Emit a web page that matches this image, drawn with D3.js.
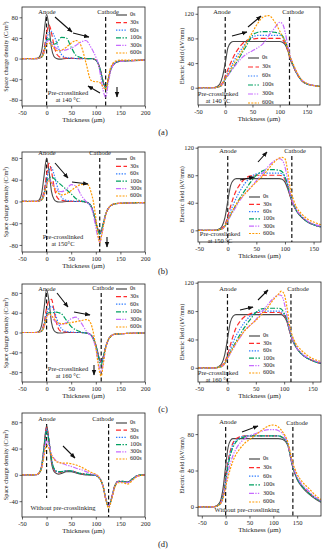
<!DOCTYPE html>
<html>
<head>
<meta charset="utf-8" />
<script src="https://d3js.org/d3.v7.min.js"></script>
<style>
  body { margin: 0; background: #fff; }
  svg text { font-family: "Liberation Serif", "DejaVu Serif", serif; fill: #222; }
</style>
</head>
<body>
<svg id="fig" width="325" height="550"></svg>
<script>
// legend names and styles
var seriesNames = ["0s", "30s", "60s", "100s", "300s", "600s"];
var seriesColors = ["#4a4a4a", "#ff2b2b", "#2f7cff", "#00a060", "#c76bff", "#ff9a00"];
var seriesDashes = ["none", "5,2.5", "1.4,1.4", "5,1.5,1.4,1.5", "5,1.3,1.3,1.3,1.3,1.3", "2,1.3"];

var scTicks = [-80, -40, 0, 40, 80];
var scTicksD = [-40, 0, 40, 80];
var efTicks = [0, 40, 80, 120];
var efTicksD = [0, 40, 80];
var xTicksSC = [-50, 0, 50, 100, 150, 200];
var xTicksEF = [-50, 0, 50, 100, 150];

// ---- (a) 140 C ----
var xScA = [-50,-30,-20,-15,-10,-5,0,5,10,15,20,25,30,40,50,60,70,80,90,100,105,110,115,120,125,130,140,150,170,200];
var scA0   = [0,0,0.5,3,15,50,86,60,20,4,0,-1,-1,0,0,0,0,0,0,-3,-10,-25,-45,-56,-42,-22,-8,-5,-4,-3];
var scA30  = [0,0,0,1,5,20,50,65,50,25,10,4,2,1,1,0,0,0,0,-3,-10,-25,-45,-55,-42,-22,-8,-5,-4,-3];
var scA60  = [0,0,0,1,4,15,38,50,53,45,32,18,8,2,1,0,0,0,0,-3,-10,-25,-45,-55,-42,-22,-8,-5,-4,-3];
var scA100 = [0,0,0,1,3,12,35,38,32,28,30,36,41,40,22,6,2,0,0,-3,-10,-26,-46,-56,-42,-22,-8,-5,-4,-3];
var scA300 = [0,0,0,1,3,12,32,35,30,24,20,17,16,17,20,26,32,35,22,3,-10,-35,-62,-75,-50,-25,-8,-5,-4,-3];
var scA600 = [0,0,0,1,3,12,28,30,26,20,16,15,16,22,30,35,25,-8,-42,-45,-45,-48,-55,-60,-40,-18,-5,-3,-3,-3];

var xEfA = [-50,-30,-20,-15,-10,-5,0,5,10,15,20,30,40,50,60,70,80,90,100,105,110,115,120,125,130,140,150,160,174];
var efA0   = [0,0,0.5,2,6,18,40,65,73,75,75,75,75,75,75,75,75,75,75,74,70,60,45,35,25,12,6,4,2];
var efA30  = [0,0,0,1,3,8,18,30,40,50,58,70,77,79,80,80,80,80,80,78,72,60,45,35,25,12,6,4,2];
var efA60  = [0,0,0,1,2,6,15,25,33,42,50,63,75,82,85,85,85,85,85,83,75,62,47,36,26,12,6,4,2];
var efA100 = [0,0,0,1,2,6,14,20,27,33,40,55,70,85,90,91,91,90,88,84,76,62,47,36,26,12,6,4,2];
var efA300 = [0,0,0,1,2,6,14,20,26,32,38,48,55,60,65,72,85,96,106,104,90,68,50,37,27,13,7,4,2];
var efA600 = [0,0,0,1,2,6,15,22,30,38,45,58,75,90,105,115,117,108,92,83,75,62,48,38,28,13,7,4,2];

// ---- (b) 150 C ----
var xScB = [-50,-30,-20,-15,-10,-5,0,5,10,15,20,25,30,40,50,60,70,80,85,90,95,100,105,108,112,116,120,130,140,160,200];
var scB0   = [0,0,0.5,3,15,48,80,55,18,4,0,-1,-1,0,0,0,0,-1,-3,-8,-20,-38,-53,-58,-52,-38,-24,-8,-4,-3,-2];
var scB30  = [0,0,0,1,5,20,50,70,55,28,10,4,2,1,0,0,0,-1,-3,-8,-20,-38,-54,-59,-52,-38,-24,-8,-4,-3,-2];
var scB60  = [0,0,0,1,4,15,40,58,62,50,33,18,8,2,1,0,0,-1,-3,-8,-20,-38,-55,-60,-52,-38,-24,-8,-4,-3,-2];
var scB100 = [0,0,0,1,3,12,35,44,45,42,38,34,30,22,14,5,1,-1,-3,-8,-20,-38,-55,-60,-52,-38,-24,-8,-4,-3,-2];
var scB300 = [0,0,0,1,3,12,32,40,36,28,22,19,18,22,31,28,12,0,-4,-10,-24,-48,-68,-75,-62,-42,-25,-8,-4,-3,-2];
var scB600 = [0,0,0,1,3,12,30,38,34,26,18,14,12,14,20,27,31,32,30,18,0,-30,-65,-76,-62,-42,-25,-8,-4,-3,-2];

var xEfB = [-52,-30,-20,-15,-10,-5,0,5,10,15,20,30,40,50,60,70,80,90,95,100,105,110,115,120,130,140,150,163];
var efB0   = [0,0,0.5,2,6,18,42,65,73,75,75,75,75,75,75,75,75,75,74,70,60,47,36,28,18,12,8,5];
var efB30  = [0,0,0,1,3,8,20,35,48,58,65,75,79,80,80,80,80,80,79,74,63,48,37,29,19,12,8,5];
var efB60  = [0,0,0,1,2,6,16,28,38,47,55,68,77,82,83,83,83,83,82,76,64,49,38,29,19,12,8,5];
var efB100 = [0,0,0,1,2,6,14,22,30,38,45,58,70,80,86,88,88,87,85,78,65,49,38,29,19,12,8,5];
var efB300 = [0,0,0,1,2,6,14,21,28,35,42,53,62,72,82,92,100,104,102,92,72,50,38,30,20,13,9,6];
var efB600 = [0,0,0,1,2,6,15,23,31,38,44,53,62,70,78,88,98,105,106,104,85,58,44,34,23,16,12,8];

// ---- (c) 160 C ----
var xScC = [-50,-30,-20,-15,-10,-5,0,5,10,15,20,25,30,40,50,60,70,80,85,90,95,100,105,108,111,115,120,130,140,160,200];
var scC0   = [0,0,0.5,3,15,50,87,62,20,4,0,-1,-1,0,0,0,0,-1,-2,-5,-12,-25,-45,-55,-60,-50,-30,-8,-3,-2,-1];
var scC30  = [0,0,0,1,5,20,50,64,67,45,20,6,2,1,0,0,0,-1,-2,-5,-12,-25,-45,-55,-60,-50,-30,-8,-3,-2,-1];
var scC60  = [0,0,0,1,4,15,38,50,53,45,30,16,8,2,1,0,0,-1,-2,-5,-12,-25,-45,-55,-60,-50,-30,-8,-3,-2,-1];
var scC100 = [0,0,0,1,3,12,35,40,40,40,41,40,38,25,12,5,1,-1,-2,-5,-12,-26,-48,-60,-65,-52,-30,-8,-3,-2,-1];
var scC300 = [0,0,0,1,3,12,32,38,32,25,20,17,16,20,28,31,20,4,-2,-6,-15,-32,-60,-75,-80,-62,-32,-8,-3,-2,-1];
var scC600 = [0,0,0,1,3,12,30,38,34,28,22,19,18,18,20,22,24,26,25,18,0,-30,-65,-82,-88,-65,-32,-8,-3,-2,-1];

var xEfC = [-52,-30,-20,-15,-10,-5,0,5,10,15,20,30,40,50,60,70,80,90,95,100,105,110,115,120,130,140,150,165];
var efC0   = [0,0,0.5,2,6,18,40,64,73,75,75,75,75,75,75,75,75,75,75,72,65,50,38,30,20,14,10,6];
var efC30  = [0,0,0,1,3,8,18,32,45,56,63,72,76,78,78,78,78,78,77,74,66,51,39,31,20,14,10,6];
var efC60  = [0,0,0,1,2,6,15,26,36,45,52,64,73,78,80,80,80,80,79,75,67,52,40,31,20,14,10,6];
var efC100 = [0,0,0,1,2,6,14,22,30,37,44,57,68,78,83,84,84,84,83,77,68,52,40,31,20,14,10,6];
var efC300 = [0,0,0,1,2,6,13,20,27,34,40,52,60,68,78,88,97,103,102,92,72,53,40,31,21,15,11,7];
var efC600 = [0,0,0,1,2,6,14,21,28,35,41,52,60,67,75,84,95,104,108,104,85,58,44,35,25,18,13,9];

// ---- (d) without pre-crosslinking ----
var xScD = [-50,-30,-20,-15,-10,-5,0,5,10,15,20,25,30,40,50,60,70,80,90,100,105,110,115,120,126,132,138,145,155,165,175,185,200];
var scD0   = [0,0,0.5,3,14,45,75,50,18,5,2,1,2,5,5,3,1,0,0,-1,-3,-8,-18,-35,-48,-35,-18,-10,-10,-11,-6,-1,0];
var scD30  = [0,0,0.5,3,13,43,72,52,22,8,4,3,4,6,6,4,2,1,0,-1,-3,-8,-18,-36,-48,-36,-18,-10,-10,-11,-6,-1,0];
var scD60  = [0,0,0.5,3,13,42,70,52,23,9,5,4,5,6,6,4,2,1,0,-1,-3,-8,-18,-36,-48,-36,-18,-10,-10,-11,-6,-1,0];
var scD100 = [0,0,0.5,3,12,40,66,50,24,10,6,5,5,6,6,4,2,1,0,-1,-3,-8,-18,-36,-48,-36,-19,-10,-10,-11,-6,-1,0];
var scD300 = [0,0,0.5,3,11,33,52,45,32,25,21,19,18,15,13,10,8,5,2,0,-2,-8,-18,-36,-47,-36,-19,-11,-11,-12,-7,-2,0];
var scD600 = [0,0,0.5,3,10,30,45,40,30,24,20,19,18,18,17,15,12,8,4,1,-2,-8,-18,-37,-50,-38,-20,-12,-12,-14,-8,-2,0];

var xEfD = [-58,-30,-20,-15,-10,-5,0,5,10,15,20,30,40,50,60,70,80,90,100,110,120,130,140,150,160,175,190,200];
var efD0   = [0,0,1,3,8,22,45,65,73,75,75,75,75,75,75,75,75,75,75,75,74,68,45,30,22,14,8,5];
var efD30  = [0,0,0.5,2,5,14,32,50,62,70,74,77,78,78,78,78,78,78,78,78,76,69,46,31,23,15,9,6];
var efD60  = [0,0,0.5,2,5,13,30,48,60,68,72,76,78,78,78,78,78,78,78,78,76,69,46,31,23,15,9,6];
var efD100 = [0,0,0.5,2,4,12,28,45,57,65,70,75,77,78,78,78,78,78,78,78,76,69,46,31,23,15,9,6];
var efD300 = [0,0,0.5,2,4,11,25,38,48,56,62,70,75,78,80,82,84,85,85,84,80,70,47,33,25,17,10,7];
var efD600 = [0,0,0.5,2,4,10,22,33,42,50,56,64,70,74,78,82,86,89,90,88,82,72,50,36,28,20,12,8];

var svg = d3.select("#fig");
var SC_LABEL = "Space charge density (C/m\u00B3)";
var EF_LABEL = "Electric field (kV/mm)";

var panels = [
  { id: "al", left: 22, right: 145, top: 7, bottom: 106, xDom: [-50, 200], yDom: [-92, 100],
    xs: xScA, ys: [scA0, scA30, scA60, scA100, scA300, scA600], yTicks: scTicks, xTicks: xTicksSC,
    yLabel: SC_LABEL, yLabelX: 7, cathode: 120, lineTop: 17, anodeBottom: 106,
    legend: { x: 116, y: 15, dy: 7.6 },
    texts: [["Anode", 47, 13], ["Cathode", 108, 13], ["Pre-crosslinked", 68, 94], ["at 140 \u00B0C", 68, 101]],
    arrows: [[55, 17, 72, 32], [73, 33, 89, 37], [100, 93, 88, 86], [117, 87, 117, 97]] },
  { id: "ar", left: 198, right: 320, top: 7, bottom: 105, xDom: [-50, 174], yDom: [-28, 131],
    xs: xEfA, ys: [efA0, efA30, efA60, efA100, efA300, efA600], yTicks: efTicks, xTicks: xTicksEF,
    yLabel: EF_LABEL, yLabelX: 183, cathode: 118, lineTop: 17, anodeBottom: 105,
    legend: { x: 248, y: 58, dy: 9.0 },
    texts: [["Anode", 222, 13], ["Cathode", 293, 13], ["Pre-crosslinked", 218, 95], ["at 140 \u00B0C", 218, 102]],
    arrows: [[232, 36, 247, 32], [248, 27, 261, 16]] },
  { id: "bl", left: 22, right: 145, top: 152, bottom: 252, xDom: [-50, 200], yDom: [-93, 91],
    xs: xScB, ys: [scB0, scB30, scB60, scB100, scB300, scB600], yTicks: scTicks, xTicks: xTicksSC,
    yLabel: SC_LABEL, yLabelX: 7, cathode: 108, lineTop: 158, anodeBottom: 252,
    legend: { x: 116, y: 159, dy: 7.4 },
    texts: [["Anode", 47, 154], ["Cathode", 100, 154], ["Pre-crosslinked", 63, 238], ["at 150\u00B0C", 63, 245]],
    arrows: [[55, 163, 68, 178], [72, 182, 88, 184], [107, 237, 107, 247]] },
  { id: "br", left: 198, right: 321, top: 147, bottom: 242, xDom: [-52, 163], yDom: [-17, 121],
    xs: xEfB, ys: [efB0, efB30, efB60, efB100, efB300, efB600], yTicks: efTicks, xTicks: xTicksEF,
    yLabel: EF_LABEL, yLabelX: 183, cathode: 112, lineTop: 156, anodeBottom: 242,
    legend: { x: 249, y: 197, dy: 7.3 },
    texts: [["Anode", 228, 152], ["Cathode", 295, 152], ["Pre-crosslinked", 220, 235], ["at 150 \u00B0C", 220, 242]],
    arrows: [[240, 180, 254, 177], [258, 162, 267, 152]] },
  { id: "cl", left: 22, right: 145, top: 284, bottom: 382, xDom: [-50, 200], yDom: [-100, 98],
    xs: xScC, ys: [scC0, scC30, scC60, scC100, scC300, scC600], yTicks: scTicks, xTicks: xTicksSC,
    yLabel: SC_LABEL, yLabelX: 7, cathode: 111, lineTop: 293, anodeBottom: 382,
    legend: { x: 116, y: 289, dy: 7.6 },
    texts: [["Anode", 47, 290], ["Cathode", 103, 289], ["Pre-crosslinked", 68, 370], ["at 160 \u00B0C", 68, 377]],
    arrows: [[57, 293, 68, 307], [74, 312, 90, 315], [94, 365, 94, 375]] },
  { id: "cr", left: 198, right: 321, top: 282, bottom: 382, xDom: [-52, 165], yDom: [-20, 121],
    xs: xEfC, ys: [efC0, efC30, efC60, efC100, efC300, efC600], yTicks: efTicks, xTicks: xTicksEF,
    yLabel: EF_LABEL, yLabelX: 183, cathode: 112, lineTop: 294, anodeBottom: 382,
    legend: { x: 249, y: 336, dy: 7.4 },
    texts: [["Anode", 228, 290], ["Cathode", 298, 290], ["Pre-crosslinked", 218, 374], ["at 160 \u00B0C", 218, 381]],
    arrows: [[240, 310, 253, 307], [258, 300, 268, 290]] },
  { id: "dl", left: 22, right: 145, top: 413, bottom: 517, xDom: [-50, 200], yDom: [-64, 94],
    xs: xScD, ys: [scD0, scD30, scD60, scD100, scD300, scD600], yTicks: scTicksD, xTicks: xTicksSC,
    yLabel: SC_LABEL, yLabelX: 7, cathode: 126, lineTop: 424, anodeBottom: 498,
    legend: { x: 116, y: 423, dy: 7.2 },
    texts: [["Anode", 47, 420], ["Cathode", 103, 420], ["Without pre-crosslinking", 63, 509]],
    arrows: [[63, 446, 75, 458]] },
  { id: "dr", left: 198, right: 321, top: 415, bottom: 516, xDom: [-58, 200], yDom: [-10, 101],
    xs: xEfD, ys: [efD0, efD30, efD60, efD100, efD300, efD600], yTicks: efTicksD, xTicks: xTicksEF,
    yLabel: EF_LABEL, yLabelX: 183, cathode: 141, lineTop: 427, anodeBottom: 516,
    legend: { x: 249, y: 459, dy: 8.6 },
    texts: [["Anode", 228, 423], ["Cathode", 297, 424], ["Without pre-crosslinking", 247, 511]],
    arrows: [[242, 432, 258, 426]] }
];

var panelLabels = [["(a)", 163, 133], ["(b)", 163, 272], ["(c)", 163, 410], ["(d)", 163, 545]];

var defs = svg.append("defs");
defs.append("marker").attr("id", "arr").attr("viewBox", "0 0 10 10")
  .attr("refX", 9).attr("refY", 5).attr("markerWidth", 5).attr("markerHeight", 5)
  .attr("orient", "auto")
  .append("path").attr("d", "M0,1 L10,5 L0,9 Z").attr("fill", "#111");

function drawPanel(p) {
  var x = d3.scaleLinear().domain(p.xDom).range([p.left, p.right]);
  var y = d3.scaleLinear().domain(p.yDom).range([p.bottom, p.top]);
  var g = svg.append("g");

  defs.append("clipPath").attr("id", "clip-" + p.id).append("rect")
    .attr("x", p.left).attr("y", p.top)
    .attr("width", p.right - p.left).attr("height", p.bottom - p.top);

  // dashed electrode lines
  g.append("line").attr("x1", x(0)).attr("x2", x(0))
    .attr("y1", p.lineTop).attr("y2", p.anodeBottom)
    .attr("stroke", "#111").attr("stroke-width", 1.2).attr("stroke-dasharray", "4,2.5");
  g.append("line").attr("x1", x(p.cathode)).attr("x2", x(p.cathode))
    .attr("y1", p.lineTop).attr("y2", p.bottom)
    .attr("stroke", "#111").attr("stroke-width", 1.2).attr("stroke-dasharray", "4,2.5");

  var line = d3.line().x(function(d) { return x(d[0]); })
    .y(function(d) { return y(d[1]); }).curve(d3.curveMonotoneX);

  var curves = g.append("g").attr("clip-path", "url(#clip-" + p.id + ")");
  p.ys.forEach(function(vals, i) {
    var pts = p.xs.map(function(xv, j) { return [xv, vals[j]]; });
    curves.append("path").datum(pts).attr("d", line)
      .attr("fill", "none").attr("stroke", seriesColors[i])
      .attr("stroke-width", i === 0 ? 1.1 : 1.2)
      .attr("stroke-dasharray", seriesDashes[i]);
  });

  // axes
  var fmt = function(d) { return String(d); };
  var xa = g.append("g").attr("transform", "translate(0," + p.bottom + ")")
    .call(d3.axisBottom(x).tickValues(p.xTicks).tickFormat(fmt).tickSize(2.5).tickPadding(1.5));
  var ya = g.append("g").attr("transform", "translate(" + p.left + ",0)")
    .call(d3.axisLeft(y).tickValues(p.yTicks).tickFormat(fmt).tickSize(2.5).tickPadding(1.5));
  [xa, ya].forEach(function(a) {
    a.select(".domain").remove();
    a.selectAll("line").attr("stroke", "#222").attr("stroke-width", 0.7);
    a.selectAll("text").attr("font-size", 6.5).attr("font-family", "Liberation Serif").attr("fill", "#222");
  });

  g.append("rect").attr("x", p.left).attr("y", p.top)
    .attr("width", p.right - p.left).attr("height", p.bottom - p.top)
    .attr("fill", "none").attr("stroke", "#222").attr("stroke-width", 0.8);

  // axis titles
  g.append("text").attr("x", (p.left + p.right) / 2).attr("y", p.bottom + 16)
    .attr("text-anchor", "middle").attr("font-size", 6.8).text("Thickness (\u03BCm)");
  g.append("text")
    .attr("transform", "translate(" + p.yLabelX + "," + ((p.top + p.bottom) / 2) + ") rotate(-90)")
    .attr("text-anchor", "middle").attr("dominant-baseline", "middle")
    .attr("font-size", 6.2).text(p.yLabel);

  // legend
  seriesNames.forEach(function(name, i) {
    var ly = p.legend.y + i * p.legend.dy;
    g.append("line").attr("x1", p.legend.x).attr("x2", p.legend.x + 11)
      .attr("y1", ly).attr("y2", ly)
      .attr("stroke", seriesColors[i]).attr("stroke-width", 1.2)
      .attr("stroke-dasharray", seriesDashes[i]);
    g.append("text").attr("x", p.legend.x + 14).attr("y", ly)
      .attr("dominant-baseline", "middle").attr("font-size", 6.2).text(name);
  });

  // annotations
  p.texts.forEach(function(t) {
    g.append("text").attr("x", t[1]).attr("y", t[2])
      .attr("text-anchor", "middle").attr("dominant-baseline", "middle")
      .attr("font-size", 6.5).text(t[0]);
  });
  p.arrows.forEach(function(a) {
    g.append("line").attr("x1", a[0]).attr("y1", a[1]).attr("x2", a[2]).attr("y2", a[3])
      .attr("stroke", "#111").attr("stroke-width", 1.1).attr("marker-end", "url(#arr)");
  });
}

panels.forEach(drawPanel);

panelLabels.forEach(function(l) {
  svg.append("text").attr("x", l[1]).attr("y", l[2])
    .attr("text-anchor", "middle").attr("dominant-baseline", "middle")
    .attr("font-size", 8.5).text(l[0]);
});
</script>
</body>
</html>
